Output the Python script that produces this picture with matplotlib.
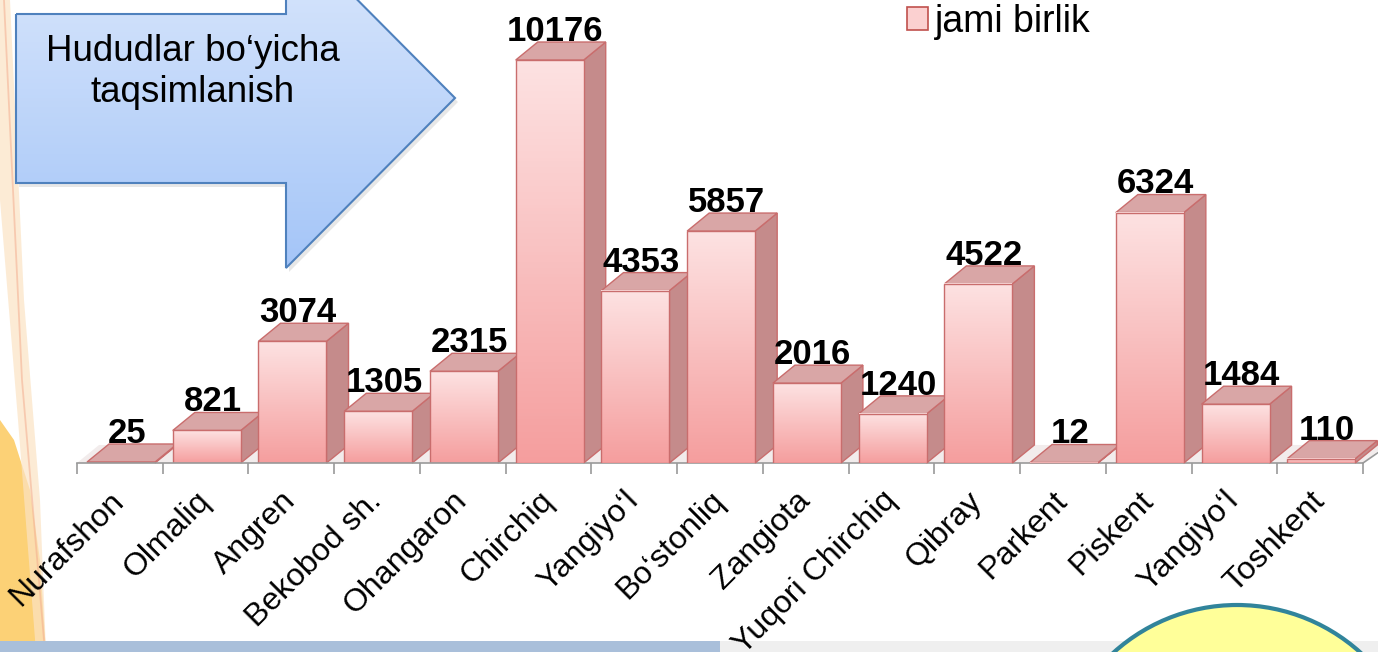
import numpy as np
import matplotlib
matplotlib.use("Agg")
import matplotlib.pyplot as plt
from matplotlib.patches import Polygon, Circle, Patch
from matplotlib.colors import LinearSegmentedColormap

plt.rcParams['font.family'] = ['Liberation Sans', 'DejaVu Sans']

# data
regions = ["Nurafshon", "Olmaliq", "Angren", "Bekobod sh.", "Ohangaron", "Chirchiq",
           "Yangiyo\u2018l", "Bo\u2018stonliq", "Zangiota", "Yuqori Chirchiq", "Qibray",
           "Parkent", "Piskent", "Yangiyo\u2018l", "Toshkent"]
units = [25, 821, 3074, 1305, 2315, 10176, 4353, 5857, 2016, 1240, 4522, 12, 6324, 1484, 110]
series_name = "jami birlik"
callout_text = "Hududlar bo\u2018yicha\ntaqsimlanish"

W, H = 1378, 652
fig = plt.figure(figsize=(W / 100, H / 100), dpi=100)
fig.patch.set_facecolor("white")

# background layer in pixel coordinates
bg = fig.add_axes([0, 0, 1, 1], zorder=0)
bg.set_xlim(0, W)
bg.set_ylim(H, 0)
bg.axis("off")

# left orange decoration
bg.add_patch(Polygon([(0, 652), (46, 652), (40, 560), (30, 490), (14, 440), (0, 420)],
                     closed=True, facecolor="#fcc95e", edgecolor="none", alpha=0.85))
bg.add_patch(Polygon([(0, 0), (10, 0), (24, 300), (40, 500), (46, 652), (36, 652), (18, 420), (0, 200)],
                     closed=True, facecolor="#fbe3c4", edgecolor="none", alpha=0.7))
bg.plot([4, 22, 44], [0, 380, 640], color="#f3a98a", lw=1.3, alpha=0.5)
# bottom band
bg.add_patch(Polygon([(0, 641), (720, 641), (720, 652), (0, 652)], closed=True,
                     facecolor="#a9bfda", edgecolor="none"))
bg.add_patch(Polygon([(720, 641), (W, 641), (W, 652), (720, 652)], closed=True,
                     facecolor="#efefef", edgecolor="none"))

# callout arrow
arrow_pts = [(16, 14), (286, 14), (286, -72), (455, 98), (286, 268), (286, 183), (16, 183)]
shadow = Polygon([(x + 3, y + 4) for x, y in arrow_pts], closed=True,
                 facecolor="#d8d8d8", edgecolor="none", alpha=0.6)
bg.add_patch(shadow)
arrow = Polygon(arrow_pts, closed=True, facecolor="none", edgecolor="#4f81bd", lw=1.5, zorder=3)
bg.add_patch(arrow)
blue_cmap = LinearSegmentedColormap.from_list("blue", ["#dde9fc", "#a4c5f8"])
grad = bg.imshow(np.linspace(0, 1, 256).reshape(-1, 1), cmap=blue_cmap, aspect="auto",
                 extent=[16, 456, 268, -72], origin="upper", zorder=2)
grad.set_clip_path(arrow)
bg.set_xlim(0, W)
bg.set_ylim(H, 0)
bg.text(193, 72, callout_text, ha="center", va="center", fontsize=26.5,
        linespacing=1.2, color="black", zorder=4)

# yellow circle
bg.add_patch(Circle((1237, 789), 184, facecolor="#ffff99", edgecolor="#31849b", lw=3, zorder=2))

# chart axes
ax = fig.add_axes([77 / W, 189 / H, 1286 / W, 463 / H], zorder=1)
ax.patch.set_alpha(0)
ymax = 11692
ax.set_xlim(-0.5, 14.5)
ax.set_ylim(0, ymax)

dx = 0.257
dy = 455
bw = 0.793
off = 0.383

# floor
ax.add_patch(Polygon([(-0.5, 0), (14.5, 0), (14.5 + dx, dy), (-0.5 + dx, dy)], closed=True,
                     facecolor="#f2ecec", edgecolor="none", zorder=1, clip_on=False))
ax.plot([14.5, 14.5 + dx], [0, dy * 0.85], color="#9a9a9a", lw=1.2, clip_on=False, zorder=1.5)

front_cmap = LinearSegmentedColormap.from_list("pink", ["#f59e9e", "#fde2e2"])
edge = "#c96d6d"
for i, v in enumerate(units):
    z = 2 + i * 0.1
    x0 = i - off
    x1 = x0 + bw
    side = Polygon([(x1, 0), (x1 + dx, dy), (x1 + dx, v + dy), (x1, v)], closed=True,
                   facecolor="#c58b8b", edgecolor=edge, lw=1, zorder=z, clip_on=False)
    top = Polygon([(x0, v), (x1, v), (x1 + dx, v + dy), (x0 + dx, v + dy)], closed=True,
                  facecolor="#d9a6a6", edgecolor=edge, lw=1, zorder=z + 0.01, clip_on=False)
    ax.add_patch(side)
    ax.add_patch(top)
    ax.imshow(np.linspace(0, 1, 128).reshape(-1, 1), cmap=front_cmap, aspect="auto",
              extent=[x0, x1, 0, max(v, 1)], origin="lower", zorder=z + 0.02)
    ax.add_patch(Polygon([(x0, 0), (x1, 0), (x1, v), (x0, v)], closed=True,
                         facecolor="none", edgecolor=edge, lw=1, zorder=z + 0.03))
    ax.text(i + 0.08, v + dy - 150, str(v), ha="center", va="bottom", fontsize=25,
            fontweight="bold", color="black", zorder=10)

ax.set_xlim(-0.5, 14.5)
ax.set_ylim(0, ymax)

for s in ["top", "right", "left"]:
    ax.spines[s].set_visible(False)
ax.spines["bottom"].set_color("#9a9a9a")
ax.spines["bottom"].set_linewidth(1.2)
ax.set_yticks([])
ax.set_xticks(np.arange(-0.5, 15, 1))
ax.set_xticklabels([])
ax.tick_params(axis="x", which="major", length=8, color="#9a9a9a", width=1.2)
ax.set_xticks(np.arange(len(regions)), minor=True)
ax.set_xticklabels(regions, minor=True, rotation=45, ha="right", va="center",
                   rotation_mode="anchor", fontsize=23)
ax.tick_params(axis="x", which="minor", length=0, pad=24)

fig.legend(handles=[Patch(facecolor="#fbd0d0", edgecolor="#c0504d", lw=1.2)],
           labels=[series_name], loc="upper left", bbox_to_anchor=(907 / W, 1 - 4 / H),
           frameon=False, fontsize=27, handlelength=0.55, handleheight=0.55,
           handletextpad=0.2, borderpad=0, borderaxespad=0)

fig.savefig("out.png", dpi=100)
